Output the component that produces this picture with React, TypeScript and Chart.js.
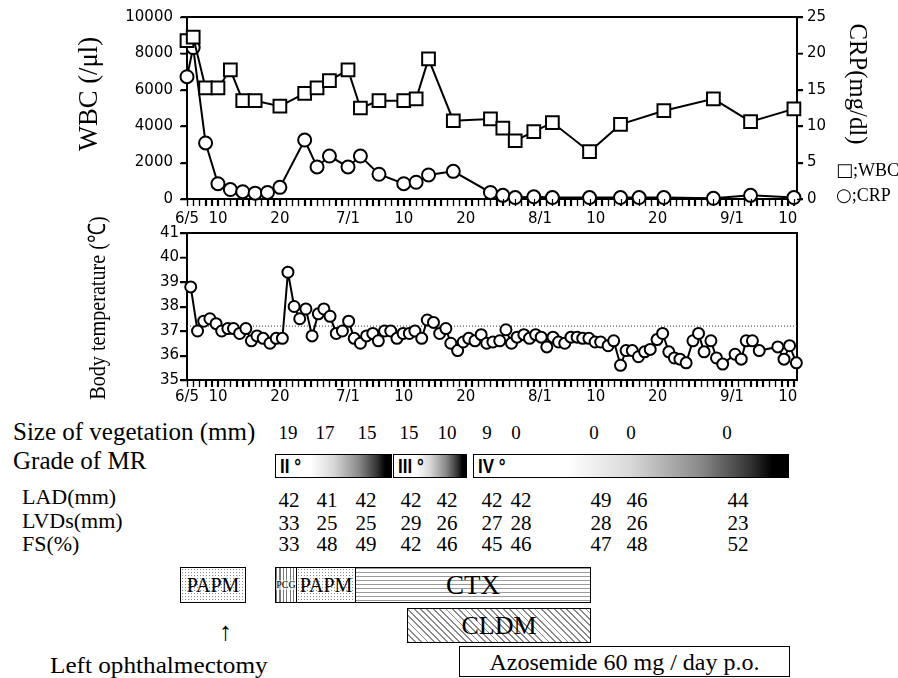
import React, { useEffect, useRef } from 'react';
import { Chart, registerables } from 'chart.js';

Chart.register(...registerables);

// ---------------- data ----------------
// days counted from 6/5
const tickDays = [0, 5, 15, 26, 35, 45, 57, 66, 76, 88, 97];
const tickLabels = ['6/5', '10', '20', '7/1', '10', '20', '8/1', '10', '20', '9/1', '10'];

const wbcDays = [0, 1, 3, 5, 7, 9, 11, 15, 19, 21, 23, 26, 28, 31, 35, 37, 39, 43, 49, 51, 53, 56, 59, 65, 70, 77, 85, 91, 98];
const wbcValues = [8700, 8900, 6100, 6100, 7100, 5400, 5400, 5100, 5800, 6100, 6500, 7100, 5000, 5400, 5400, 5500, 7700, 4300, 4400, 3900, 3200, 3700, 4200, 2600, 4100, 4850, 5500, 4250, 4950];

const crpDays = [0, 1, 3, 5, 7, 9, 11, 13, 15, 19, 21, 23, 26, 28, 31, 35, 37, 39, 43, 49, 51, 53, 56, 59, 65, 70, 73, 77, 85, 91, 98];
const crpValues = [16.8, 20.8, 7.7, 2.1, 1.3, 1.0, 0.8, 0.9, 1.6, 8.1, 4.4, 5.9, 4.4, 5.9, 3.4, 2.1, 2.3, 3.3, 3.8, 0.9, 0.5, 0.2, 0.3, 0.2, 0.2, 0.2, 0.2, 0.2, 0.1, 0.5, 0.2];

const tempDays = [0.6, 1.7, 2.7, 3.7, 4.7, 5.6, 6.6, 7.5, 8.5, 9.5, 10.4, 11.3, 12.3, 13.4, 14.4, 15.4, 16.3, 17.3, 18.2, 19.2, 20.2, 21.2, 22.1, 23.1, 24.1, 25.1, 26.1, 27, 28, 29, 30, 30.9, 31.9, 32.9, 33.9, 34.9, 35.9, 36.8, 37.9, 38.8, 39.8, 40.8, 41.8, 42.6, 43.7, 44.6, 45.5, 46.5, 47.5, 48.4, 49.4, 50.5, 51.5, 52.4, 53.3, 54.4, 55.3, 56.3, 57.2, 58.1, 59.1, 60, 61, 62, 63, 63.9, 64.9, 65.9, 66.8, 68, 68.9, 70, 70.9, 71.9, 72.9, 73.9, 74.8, 75.9, 76.8, 77.8, 78.7, 79.6, 80.6, 81.7, 82.6, 83.5, 84.6, 85.5, 86.5, 88.5, 89.5, 90.3, 91.3, 92.4, 95.4, 96.4, 97.3, 98.4];
const tempValues = [38.8, 37.0, 37.4, 37.5, 37.3, 37.0, 37.1, 37.1, 36.9, 37.1, 36.6, 36.8, 36.7, 36.5, 36.7, 36.7, 39.4, 38.0, 37.5, 37.9, 36.8, 37.7, 37.9, 37.6, 36.9, 37.0, 37.4, 36.7, 36.5, 36.8, 36.9, 36.6, 37.0, 37.0, 36.7, 36.9, 36.9, 37.0, 36.7, 37.45, 37.35, 36.9, 37.1, 36.5, 36.2, 36.55, 36.7, 36.6, 36.85, 36.5, 36.55, 36.6, 37.05, 36.5, 36.75, 36.85, 36.7, 36.85, 36.75, 36.35, 36.75, 36.55, 36.5, 36.75, 36.75, 36.7, 36.7, 36.55, 36.55, 36.4, 36.6, 35.6, 36.2, 36.2, 35.95, 36.15, 36.25, 36.65, 36.9, 36.15, 35.9, 35.85, 35.7, 36.6, 36.9, 36.15, 36.6, 35.9, 35.65, 36.05, 35.85, 36.6, 36.6, 36.2, 36.35, 35.85, 36.4, 35.7];
const FEVER_LINE = 37.2;

const vegetationValues = ['19', '17', '15', '15', '10', '9', '0', '0', '0', '0'];
const ladValues = ['42', '41', '42', '42', '42', '42', '42', '49', '46', '44'];
const lvdsValues = ['33', '25', '25', '29', '26', '27', '28', '28', '26', '23'];
const fsValues = ['33', '48', '49', '42', '46', '45', '46', '47', '48', '52'];
const mrGrades = ['II °', 'III °', 'IV °'];
const rowLabels = ['LAD(mm)', 'LVDs(mm)', 'FS(%)'];

// ---------------- layout ----------------
const SERIF = '"Liberation Serif", "Times New Roman", serif';
const SANS = '"DejaVu Sans", sans-serif';
const PLOT_LEFT = 187;
const PLOT_RIGHT = 797;
const X_MAX = 98.5;
const vegX = [288, 325, 367, 409, 447, 487, 516, 594, 631, 727];
const echoX = [289, 327, 366, 411, 447, 492, 521, 601, 637, 738];
const echoRowTop = [490, 513, 534];
const rowLabelTop = [486, 510, 533];
const mrBars = [
  { l: 275, r: 392 },
  { l: 393, r: 467 },
  { l: 473, r: 789 },
];

const tickFont = { family: 'DejaVu Sans', size: 15 };

const framePlugin = {
  id: 'frame',
  beforeDatasetsDraw(chart: any) {
    const { ctx, chartArea: a } = chart;
    ctx.save();
    ctx.strokeStyle = '#000';
    ctx.lineWidth = 2;
    ctx.strokeRect(a.left, a.top, a.right - a.left, a.bottom - a.top);
    ctx.restore();
  },
};

// tick marks drawn at the positions of the scales' own ticks (outside the plot)
const tickMarkPlugin = {
  id: 'tickMarks',
  afterDraw(chart: any) {
    const { ctx } = chart;
    ctx.save();
    ctx.strokeStyle = '#000';
    const xs = chart.scales.x;
    ctx.lineWidth = 1.2;
    xs.ticks.forEach((t: any) => {
      const x = Math.round(xs.getPixelForValue(t.value)) + 0.5;
      ctx.beginPath();
      ctx.moveTo(x, xs.top);
      ctx.lineTo(x, xs.top + 7);
      ctx.stroke();
    });
    ctx.lineWidth = 1.5;
    ['y', 'y1'].forEach((id) => {
      const s = chart.scales[id];
      if (!s) return;
      s.ticks.forEach((t: any) => {
        const y = Math.round(s.getPixelForValue(t.value)) + 0.5;
        ctx.beginPath();
        if (s.position === 'left') {
          ctx.moveTo(s.right - 7, y);
          ctx.lineTo(s.right, y);
        } else {
          ctx.moveTo(s.left, y);
          ctx.lineTo(s.left + 6, y);
        }
        ctx.stroke();
      });
    });
    ctx.restore();
  },
};

const feverPlugin = {
  id: 'fever',
  beforeDatasetsDraw(chart: any) {
    const { ctx, chartArea: a } = chart;
    const y = chart.scales.y.getPixelForValue(FEVER_LINE);
    ctx.save();
    ctx.strokeStyle = '#333';
    ctx.lineWidth = 1;
    ctx.setLineDash([1, 2]);
    ctx.beginPath();
    ctx.moveTo(a.left, y);
    ctx.lineTo(a.right, y);
    ctx.stroke();
    ctx.restore();
  },
};

function xScale(height: number, pad: number) {
  return {
    type: 'linear',
    min: 0,
    max: X_MAX,
    afterFit: (s: any) => {
      s.height = height;
    },
    ticks: {
      stepSize: 1,
      autoSkip: false,
      includeBounds: false,
      maxRotation: 0,
      minRotation: 0,
      padding: pad,
      font: tickFont,
      color: '#000',
      callback: (v: any) => {
        const i = tickDays.indexOf(Math.round(Number(v)));
        return i >= 0 && Math.abs(Number(v) - tickDays[i]) < 1e-6 ? tickLabels[i] : '';
      },
    },
    grid: {
      display: true,
      drawOnChartArea: false,
      drawTicks: true,
      tickLength: 7,
      color: '#000',
      tickColor: '#000',
      lineWidth: 1,
      tickWidth: 1.2,
    },
    border: { color: '#000', width: 2 },
  };
}

function yGrid(len: number) {
  return {
    display: true,
    drawOnChartArea: false,
    drawTicks: true,
    tickLength: len,
    color: '#000',
    tickColor: '#000',
    lineWidth: 1.5,
    tickWidth: 1.5,
  };
}

function pts(xs: number[], ys: number[]) {
  return xs.map((x, i) => ({ x, y: ys[i] }));
}

const lineStyle = {
  borderColor: '#000',
  borderWidth: 2,
  pointBackgroundColor: '#fff',
  pointBorderColor: '#000',
  pointBorderWidth: 2,
  tension: 0,
  clip: false,
};

function topConfig(): any {
  return {
    type: 'line',
    data: {
      datasets: [
        { label: 'WBC', data: pts(wbcDays, wbcValues), yAxisID: 'y', pointStyle: 'rect', pointRadius: 9, ...lineStyle },
        { label: 'CRP', data: pts(crpDays, crpValues), yAxisID: 'y1', pointStyle: 'circle', pointRadius: 6.5, ...lineStyle },
      ],
    },
    options: {
      responsive: false,
      animation: false,
      events: [],
      layout: { padding: { left: 0, right: 898 - PLOT_RIGHT - 40, top: 16, bottom: 0 } },
      plugins: { legend: { display: false }, tooltip: { enabled: false } },
      scales: {
        x: xScale(33, 4),
        y: {
          type: 'linear',
          position: 'left',
          min: 0,
          max: 10000,
          afterFit: (s: any) => {
            s.width = PLOT_LEFT;
          },
          ticks: { stepSize: 2000, padding: 8, font: tickFont, color: '#000', callback: (v: any) => String(v) },
          grid: yGrid(6),
          border: { color: '#000', width: 2 },
        },
        y1: {
          type: 'linear',
          position: 'right',
          min: 0,
          max: 25,
          afterFit: (s: any) => {
            s.width = 40;
          },
          ticks: { stepSize: 5, padding: 4, font: tickFont, color: '#000', callback: (v: any) => String(v) },
          grid: yGrid(6),
          border: { color: '#000', width: 2 },
        },
      },
    },
    plugins: [framePlugin, tickMarkPlugin],
  };
}

function midConfig(): any {
  return {
    type: 'line',
    data: {
      datasets: [
        { label: 'Body temperature', data: pts(tempDays, tempValues), pointStyle: 'circle', pointRadius: 5.5, ...lineStyle },
      ],
    },
    options: {
      responsive: false,
      animation: false,
      events: [],
      layout: { padding: { left: 0, right: 898 - PLOT_RIGHT, top: 11, bottom: 0 } },
      plugins: { legend: { display: false }, tooltip: { enabled: false } },
      scales: {
        x: xScale(32, 1),
        y: {
          type: 'linear',
          position: 'left',
          min: 35,
          max: 41,
          afterFit: (s: any) => {
            s.width = PLOT_LEFT;
          },
          ticks: { stepSize: 1, padding: 1, font: tickFont, color: '#000', callback: (v: any) => String(v) },
          grid: yGrid(7),
          border: { color: '#000', width: 2 },
        },
      },
    },
    plugins: [framePlugin, feverPlugin, tickMarkPlugin],
  };
}

function Txt(props: { x: number; y: number; size: number; children: any; family?: string; style?: any }) {
  return (
    <div
      style={{
        position: 'absolute',
        left: props.x,
        top: props.y,
        font: `${props.size}px ${props.family || SERIF}`,
        lineHeight: `${props.size}px`,
        whiteSpace: 'nowrap',
        color: '#000',
        ...(props.style || {}),
      }}
    >
      {props.children}
    </div>
  );
}

function CTxt(props: { cx: number; y: number; size: number; children: any }) {
  return (
    <div
      style={{
        position: 'absolute',
        left: props.cx - 30,
        width: 60,
        textAlign: 'center',
        top: props.y,
        font: `${props.size}px ${SERIF}`,
        lineHeight: `${props.size}px`,
        whiteSpace: 'nowrap',
        color: '#000',
      }}
    >
      {props.children}
    </div>
  );
}

function VLabel(props: { cx: number; cy: number; size: number; rot: number; sx: number; children: any }) {
  return (
    <div
      style={{
        position: 'absolute',
        left: props.cx,
        top: props.cy,
        transform: `translate(-50%, -50%) rotate(${props.rot}deg) scaleX(${props.sx})`,
        font: `${props.size}px ${SERIF}`,
        lineHeight: 1,
        whiteSpace: 'nowrap',
        color: '#000',
      }}
    >
      {props.children}
    </div>
  );
}

const dots = {
  backgroundColor: '#fff',
  backgroundImage: 'radial-gradient(circle, #8a8a8a 0.8px, rgba(255,255,255,0) 1px)',
  backgroundSize: '3px 3px',
};
const vStripes = { backgroundImage: 'repeating-linear-gradient(90deg, #777 0px, #777 1px, #fff 1px, #fff 3.5px)' };
const hLines = { backgroundImage: 'repeating-linear-gradient(180deg, #9a9a9a 0px, #9a9a9a 1px, #fff 1px, #fff 4px)' };
const diag = { backgroundImage: 'repeating-linear-gradient(45deg, #8a8a8a 0px, #8a8a8a 1.3px, #fff 1.3px, #fff 4.5px)' };

function Box(props: { l: number; r: number; t: number; b: number; style?: any; children?: any; size?: number; border?: string }) {
  return (
    <div
      style={{
        position: 'absolute',
        left: props.l,
        top: props.t,
        width: props.r - props.l,
        height: props.b - props.t,
        boxSizing: 'border-box',
        border: props.border === undefined ? '1.5px solid #000' : props.border,
        display: 'flex',
        alignItems: 'center',
        justifyContent: 'center',
        font: `${props.size || 20}px ${SERIF}`,
        lineHeight: 1,
        whiteSpace: 'nowrap',
        overflow: 'visible',
        ...(props.style || {}),
      }}
    >
      {props.children}
    </div>
  );
}

export default function App() {
  const topRef = useRef<HTMLCanvasElement>(null);
  const midRef = useRef<HTMLCanvasElement>(null);

  useEffect(() => {
    Chart.defaults.font.family = 'DejaVu Sans';
    Chart.defaults.color = '#000';
    const c1 = new Chart(topRef.current as HTMLCanvasElement, topConfig());
    const c2 = new Chart(midRef.current as HTMLCanvasElement, midConfig());
    return () => {
      c1.destroy();
      c2.destroy();
    };
  }, []);

  const mrGradient =
    'linear-gradient(to right, #fff 0%, #fff 30%, #d8d8d8 50%, #8a8a8a 72%, #333 88%, #000 95%, #000 100%)';

  return (
    <div style={{ position: 'fixed', left: 0, top: 0, width: 898, height: 678, background: '#fff', overflow: 'hidden' }}>
      <canvas ref={topRef} width={898} height={232} style={{ position: 'absolute', left: 0, top: 0, width: 898, height: 232 }} />
      <canvas ref={midRef} width={898} height={190} style={{ position: 'absolute', left: 0, top: 222, width: 898, height: 190 }} />

      {/* axis titles */}
      <VLabel cx={88} cy={94} size={28} rot={-90} sx={0.95}>WBC (/μl)</VLabel>
      <VLabel cx={858} cy={84} size={26} rot={90} sx={0.95}>CRP(mg/dl)</VLabel>
      <VLabel cx={97} cy={308} size={24} rot={-90} sx={0.84}>Body temperature (℃)</VLabel>

      {/* legend */}
      <Txt x={836} y={161} size={18}>
        <span style={{ fontFamily: SANS, fontSize: 18 }}>□</span>;WBC
      </Txt>
      <Txt x={836} y={186} size={18}>
        <span style={{ fontFamily: SANS, fontSize: 18 }}>○</span>;CRP
      </Txt>

      {/* vegetation */}
      <Txt x={13} y={419} size={25}>Size of vegetation (mm)</Txt>
      {vegetationValues.map((v, i) => (
        <CTxt key={'v' + i} cx={vegX[i]} y={423} size={19}>{v}</CTxt>
      ))}

      {/* MR grade */}
      <Txt x={13} y={448} size={25}>Grade of MR</Txt>
      {mrBars.map((b, i) => (
        <div
          key={'mr' + i}
          style={{
            position: 'absolute',
            left: b.l,
            top: 454,
            width: b.r - b.l,
            height: 24,
            boxSizing: 'border-box',
            border: '1.5px solid #000',
            background: mrGradient,
          }}
        >
          <div
            style={{
              position: 'absolute',
              left: 4,
              top: 1,
              font: `bold 20px "Liberation Sans Narrow", "Liberation Sans", sans-serif`,
              lineHeight: '20px',
              whiteSpace: 'nowrap',
              transform: 'scaleX(0.85)',
              transformOrigin: 'left center',
            }}
          >
            {mrGrades[i]}
          </div>
        </div>
      ))}

      {/* echo rows */}
      {rowLabels.map((t, r) => (
        <Txt key={'rl' + r} x={22} y={rowLabelTop[r]} size={22}>{t}</Txt>
      ))}
      {[ladValues, lvdsValues, fsValues].map((row, r) =>
        row.map((v, i) => (
          <CTxt key={'e' + r + '-' + i} cx={echoX[i]} y={echoRowTop[r]} size={21}>{v}</CTxt>
        ))
      )}

      {/* treatments */}
      <Box l={180} r={246} t={567} b={603} style={dots} size={20}>PAPM</Box>
      <Box l={275} r={591} t={567} b={603} border="1.5px solid #000" style={{ justifyContent: 'flex-start', background: '#fff' }} />
      <Box l={276} r={297} t={568} b={602} border="none" style={{ ...vStripes, borderRight: '1px solid #000' }} size={10}>
        <span style={{ fontFamily: SERIF, fontSize: 10, background: 'rgba(255,255,255,0.6)' }}>PCG</span>
      </Box>
      <Box l={297} r={356} t={568} b={602} border="none" style={{ ...dots, borderRight: '1px solid #000' }} size={20}>PAPM</Box>
      <Box l={356} r={590} t={568} b={602} border="none" style={hLines} size={27}>CTX</Box>
      <Box l={407} r={591} t={608} b={643} style={diag} size={26}>CLDM</Box>
      <Box l={459} r={790} t={646} b={677} style={{ background: '#fff' }} size={24}>Azosemide 60 mg / day p.o.</Box>

      <Txt x={219} y={619} size={26}>↑</Txt>
      <Txt x={50} y={653} size={24} style={{ transform: 'scaleX(1.05)', transformOrigin: 'left center' }}>Left ophthalmectomy</Txt>
    </div>
  );
}
